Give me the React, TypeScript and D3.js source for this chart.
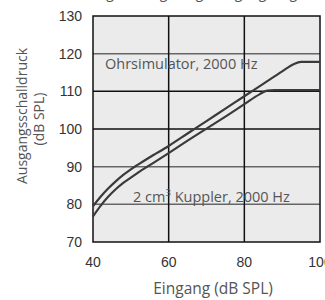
import React, { useEffect, useRef } from 'react';
import * as d3 from 'd3';

const X_TICKS = [40, 60, 80, 100];
const Y_TICKS = [70, 80, 90, 100, 110, 120, 130];
const GRAY_GRID = [80, 90, 120];

const EAR_SIM: [number, number][] = [
  [40, 79.5], [42, 82.0], [44, 84.2], [46, 86.1], [48, 87.8], [50, 89.3], [52, 90.6],
  [55, 92.5], [60, 95.5], [65, 98.8], [70, 102.1], [75, 105.4], [80, 108.7],
  [85, 112.0], [90, 115.3], [93, 117.2], [95, 117.8], [100, 117.8]
];

const COUPLER: [number, number][] = [
  [40, 76.8], [42, 79.6], [44, 82.0], [46, 84.0], [48, 85.7], [50, 87.1], [52, 88.5],
  [55, 90.4], [60, 93.6], [65, 96.9], [70, 100.1], [75, 103.3], [80, 106.6],
  [84, 109.2], [86, 110.2], [88, 110.3], [100, 110.3]
];

export default function App() {
  const svgRef = useRef<SVGSVGElement>(null);

  useEffect(() => {
    if (!svgRef.current) return;
    const width = 325;
    const height = 300;
    const svg = d3.select(svgRef.current);
    svg.selectAll('*').remove();
    svg.attr('viewBox', `0 0 ${width} ${height}`);

    const left = 93, right = 320, top = 16, bottom = 242;
    const x = d3.scaleLinear().domain([40, 100]).range([left, right]);
    const y = d3.scaleLinear().domain([70, 130]).range([bottom, top]);
    const font = 'Open Sans';

    // title, mostly cut off at the top of the picture
    svg.append('text')
      .text('Wirkung der Regelung, Ausgangsbegrenzung')
      .attr('x', 205)
      .attr('y', -2)
      .attr('text-anchor', 'middle')
      .attr('font-family', font)
      .attr('font-size', 14)
      .attr('fill', '#555');

    svg.append('rect')
      .attr('x', left).attr('y', top)
      .attr('width', right - left).attr('height', bottom - top)
      .attr('fill', '#ebebeb');

    // grid
    Y_TICKS.slice(1, -1).forEach(v => {
      svg.append('line')
        .attr('x1', left).attr('x2', right)
        .attr('y1', y(v)).attr('y2', y(v))
        .attr('stroke', GRAY_GRID.includes(v) ? '#666' : '#111')
        .attr('stroke-width', 1.5);
    });
    X_TICKS.slice(1, -1).forEach(v => {
      svg.append('line')
        .attr('x1', x(v)).attr('x2', x(v))
        .attr('y1', top).attr('y2', bottom)
        .attr('stroke', '#111')
        .attr('stroke-width', 1.5);
    });

    svg.append('rect')
      .attr('x', left).attr('y', top)
      .attr('width', right - left).attr('height', bottom - top)
      .attr('fill', 'none')
      .attr('stroke', '#111')
      .attr('stroke-width', 1.5);

    // curve labels
    svg.append('text')
      .text('Ohrsimulator, 2000 Hz')
      .attr('x', 105).attr('y', 69)
      .attr('font-family', font)
      .attr('font-size', 14.5)
      .attr('fill', '#555');

    const kup = svg.append('text')
      .attr('x', 133).attr('y', 202)
      .attr('font-family', font)
      .attr('font-size', 14.5)
      .attr('fill', '#555');
    kup.append('tspan').text('2 cm');
    kup.append('tspan').text('3').attr('font-size', 9.5).attr('dy', -6);
    kup.append('tspan').text(' Kuppler, 2000 Hz').attr('dy', 6);

    const line = d3.line<[number, number]>()
      .x(d => x(d[0]))
      .y(d => y(d[1]))
      .curve(d3.curveMonotoneX);

    [EAR_SIM, COUPLER].forEach(data => {
      svg.append('path')
        .datum(data)
        .attr('d', line)
        .attr('fill', 'none')
        .attr('stroke', '#3a3a3a')
        .attr('stroke-width', 2.2);
    });

    // ticks
    Y_TICKS.forEach(v => {
      svg.append('text')
        .text(v)
        .attr('x', 82).attr('y', y(v))
        .attr('dy', '0.35em')
        .attr('text-anchor', 'end')
        .attr('font-family', 'Liberation Sans')
        .attr('font-size', 14)
        .attr('fill', '#333');
    });
    X_TICKS.forEach(v => {
      svg.append('text')
        .text(v)
        .attr('x', x(v)).attr('y', 262)
        .attr('dy', '0.35em')
        .attr('text-anchor', 'middle')
        .attr('font-family', 'Liberation Sans')
        .attr('font-size', 14)
        .attr('fill', '#333');
    });

    svg.append('text')
      .text('Eingang (dB SPL)')
      .attr('x', 213).attr('y', 294)
      .attr('text-anchor', 'middle')
      .attr('font-family', font)
      .attr('font-size', 15.5)
      .attr('fill', '#555');

    const yt = svg.append('text')
      .attr('transform', 'translate(27,116) rotate(-90)')
      .attr('text-anchor', 'middle')
      .attr('font-family', font)
      .attr('font-size', 14)
      .attr('fill', '#555');
    yt.append('tspan').text('Ausgangsschalldruck').attr('x', 0).attr('y', 0);
    yt.append('tspan').text('(dB SPL)').attr('x', -3).attr('y', 17);
  }, []);

  return (
    <svg ref={svgRef} width={325} height={300}
      style={{ position: 'absolute', left: 0, top: 0, background: '#fff' }} />
  );
}
